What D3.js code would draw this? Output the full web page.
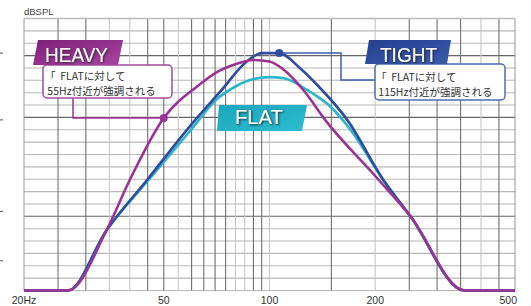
<!DOCTYPE html>
<html>
<head>
<meta charset="utf-8">
<script src="https://cdn.jsdelivr.net/npm/d3@7"></script>
<style>
  body { margin: 0; background: #fff; }
  svg { display: block; font-family: "Liberation Sans", Arial, sans-serif; }
</style>
</head>
<body>
<svg id="chart" width="531" height="306"></svg>
<script>
// ---- data (Hz / dBSPL) ----
var heavyHz = [20, 26.7, 34.4, 40, 50, 63, 71, 80, 90, 100, 110, 125, 144, 200, 252, 359, 500];
var heavyDb = [0, 0, 24.5, 44.7, 69.8, 83.1, 88.4, 91.5, 93.2, 92.6, 89.2, 81, 69, 46.3, 30, 0, 0];

var tightHz = [20, 26.7, 34.4, 44.8, 59.4, 72.5, 86, 95, 106.6, 122, 137, 166.5, 211, 252, 359, 500];
var tightDb = [0, 0, 24.5, 44.7, 66.5, 80.5, 92.5, 96, 96, 90, 83, 69, 44.7, 30, 0, 0];

var flatHz = [20, 26.7, 34.4, 44.8, 59.4, 71, 80, 90, 100, 110, 128, 150, 170, 210, 252, 359, 500];
var flatDb = [0, 0, 24.5, 44, 64.5, 77.5, 82.5, 85.5, 86.3, 85.8, 81.1, 74, 65, 45, 30, 0, 0];

var heavyMarkHz = 50, tightMarkHz = 106.6;

var xTicks = [20, 50, 100, 200, 500];
var xTickLabels = ["20Hz", "50", "100", "200", "500"];
var xGridFine = d3.range(20, 101, 5).concat(d3.range(150, 501, 50));
var xGridLight = [35, 40, 55, 80, 85, 100, 200, 400];
var yGrid = d3.range(0, 111, 5);
var yGridDark = [95, 70, 30];
var yDashes = [96, 69, 32, 12];

var svg = d3.select("svg#chart"),
  width = +svg.attr("width"),
  height = +svg.attr("height");

var plot = { left: 24, right: 515, top: 18.5, bottom: 290.5 };

var x = d3.scaleLog().domain([20, 500]).range([plot.left, plot.right]);
var y = d3.scaleLinear().domain([0, 110]).range([plot.bottom, plot.top]);

var defs = svg.append("defs");
var shadow = defs.append("filter").attr("id", "shadow")
  .attr("x", "-20%").attr("y", "-30%").attr("width", "140%").attr("height", "160%");
shadow.append("feDropShadow")
  .attr("dx", 1).attr("dy", 1).attr("stdDeviation", 0.9)
  .attr("flood-color", "#1a1a1a").attr("flood-opacity", 0.9);

function grad(id, c1, c2) {
  var g = defs.append("linearGradient").attr("id", id)
    .attr("x1", 0).attr("y1", 0).attr("x2", 1).attr("y2", 1);
  g.append("stop").attr("offset", "0%").attr("stop-color", c1);
  g.append("stop").attr("offset", "100%").attr("stop-color", c2);
}
grad("gHeavy", "#7e1f7c", "#a9469f");
grad("gTight", "#243f8f", "#3b5cab");
grad("gFlat", "#1aa6bc", "#2dbcd0");

// ---- grid ----
var grid = svg.append("g").attr("class", "grid");

grid.selectAll("line.h")
  .data(yGrid)
  .enter().append("line")
  .attr("class", "h")
  .attr("x1", plot.left).attr("x2", plot.right)
  .attr("y1", function(d) { return y(d); })
  .attr("y2", function(d) { return y(d); })
  .attr("stroke", function(d) { return yGridDark.indexOf(d) >= 0 ? "#666" : "#b8b8b8"; })
  .attr("stroke-width", 1.1);

grid.selectAll("line.v")
  .data(xGridFine)
  .enter().append("line")
  .attr("class", "v")
  .attr("y1", plot.top).attr("y2", plot.bottom)
  .attr("x1", function(d) { return x(d); })
  .attr("x2", function(d) { return x(d); })
  .attr("stroke", function(d) {
    if (d == 20 || d == 500) return "#a0a0a0";
    return xGridLight.indexOf(d) >= 0 ? "#c8c8c8" : "#707070";
  })
  .attr("stroke-width", 1.1);

// top border is light
grid.append("line")
  .attr("x1", plot.left).attr("x2", plot.right)
  .attr("y1", plot.top).attr("y2", plot.top)
  .attr("stroke", "#bbb").attr("stroke-width", 1.5);

// little dashes left of the axis
svg.append("g").selectAll("line")
  .data(yDashes)
  .enter().append("line")
  .attr("x1", 0).attr("x2", 3)
  .attr("y1", function(d) { return y(d); })
  .attr("y2", function(d) { return y(d); })
  .attr("stroke", "#555").attr("stroke-width", 1);

// ---- axis text ----
svg.append("text")
  .attr("x", plot.left).attr("y", 15)
  .attr("font-size", 9.5).attr("fill", "#444")
  .text("dBSPL");

svg.append("g").selectAll("text")
  .data(xTicks)
  .enter().append("text")
  .attr("x", function(d, i) { return i == xTicks.length - 1 ? x(d) + 2 : x(d); })
  .attr("y", 304)
  .attr("text-anchor", function(d, i) { return i == xTicks.length - 1 ? "end" : "middle"; })
  .attr("font-size", 10.5).attr("fill", "#333")
  .text(function(d, i) { return xTickLabels[i]; });

// ---- curves ----
var line = d3.line()
  .x(function(d) { return x(d[0]); })
  .y(function(d) { return y(d[1]); })
  .curve(d3.curveMonotoneX);

function zip(a, b) { return a.map(function(v, i) { return [v, b[i]]; }); }

var series = [
  { name: "FLAT", color: "#2bb6ca", pts: zip(flatHz, flatDb) },
  { name: "TIGHT", color: "#2f4c9e", pts: zip(tightHz, tightDb) },
  { name: "HEAVY", color: "#9c3394", pts: zip(heavyHz, heavyDb) }
];

svg.append("g").attr("class", "curves")
  .selectAll("path")
  .data(series)
  .enter().append("path")
  .attr("d", function(d) { return line(d.pts); })
  .attr("fill", "none")
  .attr("stroke", function(d) { return d.color; })
  .attr("stroke-width", 2.6)
  .attr("stroke-linejoin", "round");

// marker positions on their curves
var heavyMark = [x(heavyMarkHz), y(heavyDb[heavyHz.indexOf(heavyMarkHz)])];
var tightMark = [x(tightMarkHz), y(tightDb[tightHz.indexOf(tightMarkHz)])];

// ---- callouts ----
var notes = svg.append("g").attr("class", "notes");

// HEAVY leader + box
notes.append("path")
  .attr("d", "M" + heavyMark[0] + "," + heavyMark[1] + "H73V98")
  .attr("fill", "none").attr("stroke", "#9c3394").attr("stroke-width", 1.5);
notes.append("rect")
  .attr("x", 43).attr("y", 65).attr("width", 129).attr("height", 33).attr("rx", 4)
  .attr("fill", "#fff").attr("stroke", "#a24c9c").attr("stroke-width", 1.5);

// TIGHT leader + box
notes.append("path")
  .attr("d", "M" + tightMark[0] + "," + tightMark[1] + "H341V80H375")
  .attr("fill", "none").attr("stroke", "#3d5fae").attr("stroke-width", 1.5);
notes.append("rect")
  .attr("x", 375).attr("y", 64).attr("width", 130).attr("height", 36).attr("rx", 4)
  .attr("fill", "#fff").attr("stroke", "#4d6db3").attr("stroke-width", 1.5);

var noteText = [
  { x: 45, y: 80, lines: ["「  FLATに対して", " 55Hz付近が強調される"] },
  { x: 376, y: 81, lines: ["「  FLATに対して", " 115Hz付近が強調される"] }
];
noteText.forEach(function(n) {
  n.lines.forEach(function(t, i) {
    notes.append("text")
      .attr("x", n.x).attr("y", n.y + i * 14.5)
      .attr("font-family", "'Noto Sans CJK JP', sans-serif")
      .attr("font-size", 10.5).attr("fill", "#333")
      .attr("xml:space", "preserve")
      .style("white-space", "pre")
      .text(t);
  });
});

// markers
notes.selectAll("circle")
  .data([[heavyMark, "#9c3394"], [tightMark, "#2f4c9e"]])
  .enter().append("circle")
  .attr("cx", function(d) { return d[0][0]; })
  .attr("cy", function(d) { return d[0][1]; })
  .attr("r", 4)
  .attr("fill", function(d) { return d[1]; });

// name tags (slanted boxes)
var tags = [
  { text: "HEAVY", fill: "url(#gHeavy)", pts: [[38, 40], [123, 40], [118, 65], [33, 65]], tx: 76.5, ty: 61.5, len: 63 },
  { text: "TIGHT", fill: "url(#gTight)", pts: [[369, 40], [451, 40], [447, 64], [365, 64]], tx: 408.5, ty: 61.5, len: 57 },
  { text: "FLAT", fill: "url(#gFlat)", pts: [[219, 105], [307, 105], [302, 131], [217, 131]], tx: 259, ty: 123.5, len: 48 }
];
var tag = notes.selectAll("g.tag")
  .data(tags)
  .enter().append("g").attr("class", "tag");
tag.append("polygon")
  .attr("points", function(d) { return d.pts.map(function(p) { return p.join(","); }).join(" "); })
  .attr("fill", function(d) { return d.fill; });
tag.append("text")
  .attr("x", function(d) { return d.tx; })
  .attr("y", function(d) { return d.ty; })
  .attr("text-anchor", "middle")
  .attr("font-size", 20)
  .attr("textLength", function(d) { return d.len; })
  .attr("lengthAdjust", "spacingAndGlyphs")
  .attr("fill", "#fff")
  .attr("filter", "url(#shadow)")
  .text(function(d) { return d.text; });
</script>
</body>
</html>
